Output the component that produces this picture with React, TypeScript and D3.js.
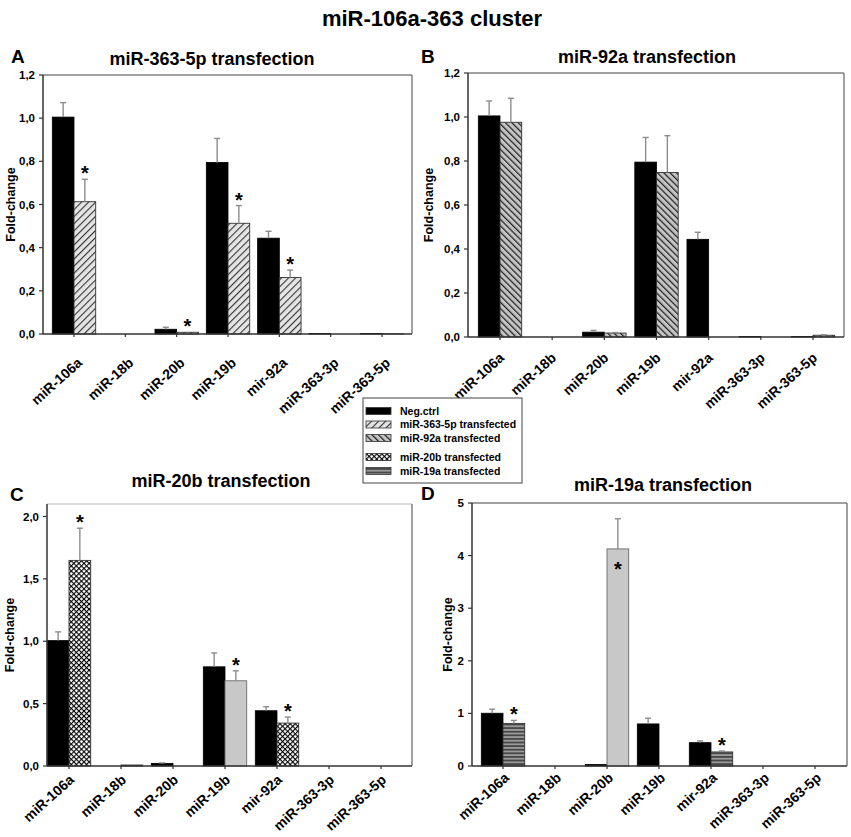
import * as d3 from "d3";

const FONT = "'Liberation Sans', Arial, Helvetica, sans-serif";

const categories = ["miR-106a", "miR-18b", "miR-20b", "miR-19b", "mir-92a", "miR-363-3p", "miR-363-5p"];

// A: miR-363-5p transfection
const negA = [1.005, 0, 0.022, 0.795, 0.444, 0.002, 0.002];
const negAErr = [0.067, 0, 0.009, 0.111, 0.032, 0, 0];
const trtA = [0.613, 0, 0.008, 0.513, 0.262, 0, 0.001];
const trtAErr = [0.104, 0, 0, 0.082, 0.034, 0, 0];
const sigA = [1, 0, 1, 1, 1, 0, 0];
const fillA = ["h363", "h363", "h363", "h363", "h363", "h363", "h363"];

// B: miR-92a transfection
const negB = [1.005, 0, 0.022, 0.795, 0.444, 0.002, 0.002];
const negBErr = [0.068, 0, 0.008, 0.112, 0.032, 0, 0];
const trtB = [0.976, 0, 0.018, 0.748, 0, 0, 0.008];
const trtBErr = [0.109, 0, 0.002, 0.167, 0, 0, 0.002];
const sigB = [0, 0, 0, 0, 0, 0, 0];
const fillB = ["h92", "h92", "h92", "h92", "h92", "h92", "h92"];

// C: miR-20b transfection
const negC = [1.005, 0, 0.021, 0.795, 0.443, 0, 0];
const negCErr = [0.07, 0, 0.004, 0.111, 0.032, 0, 0];
const trtC = [1.648, 0.008, 0, 0.683, 0.344, 0, 0];
const trtCErr = [0.258, 0, 0, 0.08, 0.048, 0, 0];
const sigC = [1, 0, 0, 1, 1, 0, 0];
const fillC = ["x20", "x20", "x20", "grey", "x20", "x20", "x20"];

// D: miR-19a transfection
const negD = [1.003, 0, 0.03, 0.8, 0.444, 0, 0];
const negDErr = [0.077, 0, 0, 0.108, 0.032, 0, 0];
const trtD = [0.81, 0, 4.127, 0, 0.267, 0, 0];
const trtDErr = [0.057, 0, 0.573, 0, 0.018, 0, 0];
const sigD = [1, 0, -1, 0, 1, 0, 0];
const fillD = ["s19", "s19", "grey", "s19", "s19", "s19", "s19"];

const legendLabels = ["Neg.ctrl", "miR-363-5p transfected", "miR-92a transfected", "miR-20b transfected", "miR-19a transfected"];
const legendFills = ["black", "h363", "h92", "x20", "s19"];

const fillOf = (f: string) => (f === "black" ? "#000" : f === "grey" ? "#c8c8c8" : `url(#${f})`);

type Cfg = {
  L: number; T: number; R: number; B: number;
  yMax: number; ticks: number[]; fmt: (v: number) => string;
  c0: number; c6: number;
  letter: string; letterX: number; letterY: number;
  title: string; titleX: number; titleY: number;
  ylabX: number; labDx: number; labDy: number; topColor: string;
};

const comma = (v: number) => d3.format(".1f")(v).replace(".", ",");

const Panel = ({ cfg, neg, negErr, trt, trtErr, sig, fills }: {
  cfg: Cfg; neg: number[]; negErr: number[]; trt: number[]; trtErr: number[]; sig: number[]; fills: string[];
}) => {
  const { L, T, R, B } = cfg;
  const x = d3.scalePoint(categories, [cfg.c0, cfg.c6]);
  const y = d3.scaleLinear([0, cfg.yMax], [B, T]);
  const bw = 21.7;
  const errBar = (cx: number, v: number, e: number, k: string) =>
    e > 0 ? (
      <g key={k} stroke="#8c8c8c" strokeWidth={1.4}>
        <line x1={cx} x2={cx} y1={y(v)} y2={y(v + e)} />
        <line x1={cx - 3} x2={cx + 3} y1={y(v + e)} y2={y(v + e)} />
      </g>
    ) : null;

  return (
    <g fontFamily={FONT} fontWeight="bold">
      <text x={cfg.letterX} y={cfg.letterY} fontSize={19}>{cfg.letter}</text>
      <text x={cfg.titleX} y={cfg.titleY} fontSize={18} textAnchor="middle">{cfg.title}</text>
      {/* frame */}
      <line x1={L} x2={R} y1={T} y2={T} stroke={cfg.topColor} strokeWidth={1.5} />
      <line x1={R} x2={R} y1={T} y2={B} stroke="#808080" strokeWidth={1.5} />
      {/* bars */}
      {categories.map((c, i) => {
        const cx = x(c)!;
        return (
          <g key={c}>
            {neg[i] > 0 && (
              <rect x={cx - bw} y={y(neg[i])} width={bw} height={B - y(neg[i])} fill="#000" stroke="#000" strokeWidth={0.8} />
            )}
            {trt[i] > 0 && (
              <rect x={cx} y={y(trt[i])} width={bw} height={B - y(trt[i])} fill={fillOf(fills[i])}
                stroke={fills[i] === "grey" ? "#6a6a6a" : "#333"} strokeWidth={0.9} />
            )}
            {errBar(cx - bw / 2, neg[i], negErr[i], "n")}
            {errBar(cx + bw / 2, trt[i], trtErr[i], "t")}
            {sig[i] === 1 && (
              <text x={cx + bw / 2} y={y(trt[i] + trtErr[i]) + 1} fontSize={20} textAnchor="middle">*</text>
            )}
            {sig[i] === -1 && (
              <text x={cx + bw / 2} y={y(trt[i]) + 27} fontSize={20} textAnchor="middle">*</text>
            )}
          </g>
        );
      })}
      {/* axes */}
      <line x1={L} x2={L} y1={T} y2={B} stroke="#333" strokeWidth={1.5} />
      <line x1={L} x2={R} y1={B} y2={B} stroke="#333" strokeWidth={1.5} />
      {cfg.ticks.map((t) => (
        <g key={t}>
          <line x1={L - 4} x2={L} y1={y(t)} y2={y(t)} stroke="#333" strokeWidth={1.2} />
          <text x={L - 8} y={y(t)} dy="0.35em" fontSize={11.5} textAnchor="end">{cfg.fmt(t)}</text>
        </g>
      ))}
      {categories.map((c) => (
        <g key={c}>
          <line x1={x(c)!} x2={x(c)!} y1={B} y2={B + 3} stroke="#333" strokeWidth={1.2} />
          <text transform={`translate(${x(c)! + cfg.labDx},${B + cfg.labDy}) rotate(-42)`} fontSize={14} textAnchor="end">{c}</text>
        </g>
      ))}
      <text transform={`translate(${cfg.ylabX},${(T + B) / 2}) rotate(-90)`} fontSize={12.5} textAnchor="middle">Fold-change</text>
    </g>
  );
};

const cfgA: Cfg = {
  L: 43, T: 75, R: 412, B: 334, yMax: 1.2, ticks: d3.range(0, 1.21, 0.2), fmt: comma, c0: 74, c6: 382,
  letter: "A", letterX: 11, letterY: 63, title: "miR-363-5p transfection", titleX: 212, titleY: 65,
  ylabX: 15, labDx: 9, labDy: 30, topColor: "#808080",
};
const cfgB: Cfg = {
  L: 468, T: 73, R: 844, B: 337, yMax: 1.2, ticks: d3.range(0, 1.21, 0.2), fmt: comma, c0: 500, c6: 813,
  letter: "B", letterX: 421, letterY: 63, title: "miR-92a transfection", titleX: 647, titleY: 63,
  ylabX: 433, labDx: 5, labDy: 22, topColor: "#808080",
};
const cfgC: Cfg = {
  L: 47, T: 504, R: 412, B: 766, yMax: 2.1, ticks: d3.range(0, 2.01, 0.5), fmt: comma, c0: 69, c6: 381,
  letter: "C", letterX: 10, letterY: 501, title: "miR-20b transfection", titleX: 221, titleY: 487,
  ylabX: 14, labDx: 6, labDy: 15, topColor: "#d0d0d0",
};
const cfgD: Cfg = {
  L: 472, T: 503, R: 847, B: 766, yMax: 5, ticks: d3.range(0, 6, 1), fmt: d3.format("d"), c0: 503, c6: 815,
  letter: "D", letterX: 421, letterY: 500, title: "miR-19a transfection", titleX: 663, titleY: 491,
  ylabX: 452, labDx: 7, labDy: 13, topColor: "#808080",
};

const App = () => {
  const legRows = [411, 424.5, 438, 457, 471];
  return (
    <svg width={851} height={837} style={{ position: "absolute", left: 0, top: 0, background: "#fff" }}>
      <defs>
        <pattern id="h363" patternUnits="userSpaceOnUse" width={5} height={5} patternTransform="rotate(45)">
          <rect width={5} height={5} fill="#e4e4e4" />
          <line x1={0.5} y1={0} x2={0.5} y2={5} stroke="#333" strokeWidth={1.2} />
        </pattern>
        <pattern id="h92" patternUnits="userSpaceOnUse" width={4.5} height={4.5} patternTransform="rotate(-45)">
          <rect width={4.5} height={4.5} fill="#c4c4c4" />
          <line x1={0.6} y1={0} x2={0.6} y2={4.5} stroke="#222" strokeWidth={1.3} />
        </pattern>
        <pattern id="x20" patternUnits="userSpaceOnUse" width={3.6} height={3.6} patternTransform="rotate(45)">
          <rect width={3.6} height={3.6} fill="#fff" />
          <line x1={0.5} y1={0} x2={0.5} y2={3.6} stroke="#000" strokeWidth={1.2} />
          <line x1={0} y1={0.5} x2={3.6} y2={0.5} stroke="#000" strokeWidth={1.2} />
        </pattern>
        <pattern id="s19" patternUnits="userSpaceOnUse" width={4} height={3.6}>
          <rect width={4} height={3.6} fill="#9a9a9a" />
          <rect width={4} height={1.8} fill="#474747" />
        </pattern>
      </defs>
      <text x={432} y={26} fontFamily={FONT} fontWeight="bold" fontSize={22} textAnchor="middle">miR-106a-363 cluster</text>
      <Panel cfg={cfgA} neg={negA} negErr={negAErr} trt={trtA} trtErr={trtAErr} sig={sigA} fills={fillA} />
      <Panel cfg={cfgB} neg={negB} negErr={negBErr} trt={trtB} trtErr={trtBErr} sig={sigB} fills={fillB} />
      <Panel cfg={cfgC} neg={negC} negErr={negCErr} trt={trtC} trtErr={trtCErr} sig={sigC} fills={fillC} />
      <Panel cfg={cfgD} neg={negD} negErr={negDErr} trt={trtD} trtErr={trtDErr} sig={sigD} fills={fillD} />
      {/* legend */}
      <g fontFamily={FONT} fontWeight="bold" fontSize={10.5}>
        <rect x={363} y={398} width={159} height={85} fill="#fff" stroke="#444" strokeWidth={1} />
        {legendLabels.map((l, i) => (
          <g key={l}>
            <rect x={366} y={legRows[i] - 3.5} width={25} height={7} fill={fillOf(legendFills[i])} stroke="#333" strokeWidth={0.8} />
            <text x={400} y={legRows[i]} dy="0.35em">{l}</text>
          </g>
        ))}
      </g>
    </svg>
  );
};

export default App;
